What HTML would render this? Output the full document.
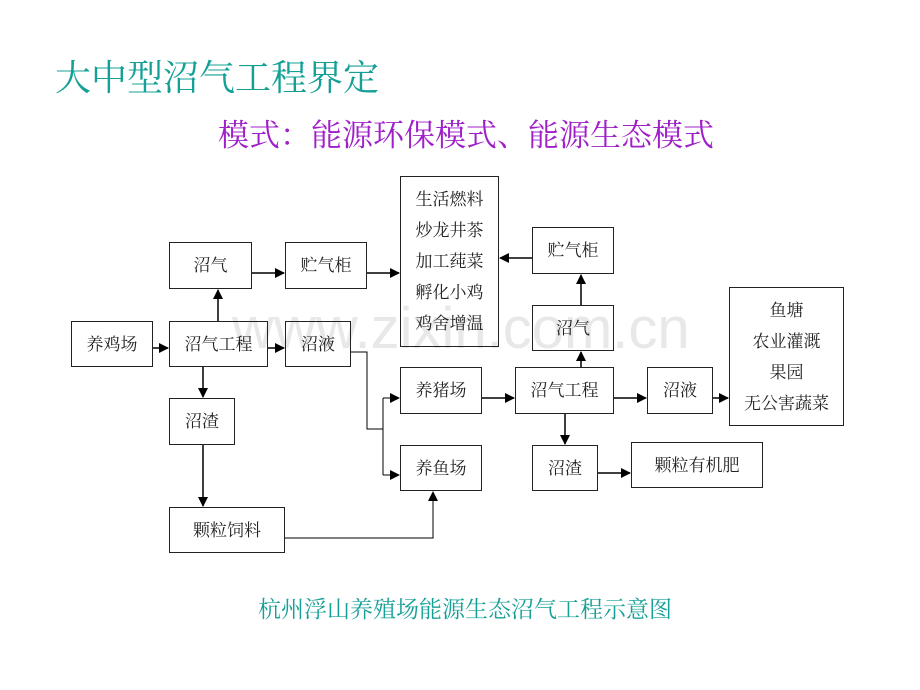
<!DOCTYPE html>
<html><head><meta charset="utf-8"><style>
body{margin:0;width:920px;height:690px;background:#fff;overflow:hidden;position:relative;font-family:"Liberation Serif","Noto Serif CJK SC",serif;}
.t{position:absolute;white-space:nowrap;}
.b{position:absolute;border:1.5px solid #222;box-sizing:border-box;display:flex;align-items:center;justify-content:center;font-size:17px;color:#222;text-align:center;line-height:31px;}
</style></head><body>
<div class="t" style="left:232px;top:295px;font-family:'Liberation Sans',sans-serif;font-size:58px;color:#e8e8e8;">www.zixin.com.cn</div>
<div class="t" style="left:55px;top:50px;font-size:36px;color:#15a097;">大中型沼气工程界定</div>
<div class="t" style="left:218px;top:110px;font-size:31px;color:#a020c8;">模式：能源环保模式、能源生态模式</div>
<div class="t" style="left:258px;top:591px;font-size:23px;color:#15a097;">杭州浮山养殖场能源生态沼气工程示意图</div>

<svg width="920" height="690" style="position:absolute;left:0;top:0">
<defs><marker id="a" markerWidth="10" markerHeight="10" refX="9" refY="5" orient="auto" markerUnits="userSpaceOnUse"><path d="M0,0L10,5L0,10z" fill="#000"/></marker></defs>
<g stroke="#000" stroke-width="1.5" fill="none">
<line x1="153" y1="348" x2="168" y2="348" marker-end="url(#a)"/>
<line x1="218" y1="321" x2="218" y2="290" marker-end="url(#a)"/>
<line x1="252" y1="273" x2="284" y2="273" marker-end="url(#a)"/>
<line x1="367" y1="273" x2="399" y2="273" marker-end="url(#a)"/>
<line x1="268" y1="348" x2="284" y2="348" marker-end="url(#a)"/>
<line x1="203" y1="367" x2="203" y2="397" marker-end="url(#a)"/>
<line x1="203" y1="445" x2="203" y2="506" marker-end="url(#a)"/>
<polyline stroke-width="1" points="351,352 367,352 367,429 383,429"/>
<line stroke-width="1" x1="383" y1="398" x2="383" y2="475"/>
<line stroke-width="1" x1="383" y1="398" x2="399" y2="398" marker-end="url(#a)"/>
<line stroke-width="1" x1="383" y1="475" x2="399" y2="475" marker-end="url(#a)"/>
<polyline stroke-width="1" points="285,538 433,538 433,492" marker-end="url(#a)"/>
<line x1="482" y1="398" x2="514" y2="398" marker-end="url(#a)"/>
<line x1="581" y1="367" x2="581" y2="352" marker-end="url(#a)"/>
<line x1="581" y1="305" x2="581" y2="275" marker-end="url(#a)"/>
<line x1="532" y1="258" x2="500" y2="258" marker-end="url(#a)"/>
<line x1="614" y1="398" x2="646" y2="398" marker-end="url(#a)"/>
<line x1="713" y1="398" x2="728" y2="398" marker-end="url(#a)"/>
<line x1="565" y1="414" x2="565" y2="444" marker-end="url(#a)"/>
<line x1="598" y1="473" x2="630" y2="473" marker-end="url(#a)"/>
</g></svg>

<div class="b" style="left:169px;top:242px;width:83px;height:47px;">沼气</div>
<div class="b" style="left:285px;top:242px;width:82px;height:47px;">贮气柜</div>
<div class="b" style="left:400px;top:176px;width:99px;height:171px;">生活燃料<br>炒龙井茶<br>加工莼菜<br>孵化小鸡<br>鸡舍增温</div>
<div class="b" style="left:71px;top:321px;width:82px;height:46px;">养鸡场</div>
<div class="b" style="left:169px;top:321px;width:99px;height:46px;">沼气工程</div>
<div class="b" style="left:285px;top:321px;width:66px;height:46px;">沼液</div>
<div class="b" style="left:169px;top:398px;width:66px;height:47px;">沼渣</div>
<div class="b" style="left:169px;top:507px;width:116px;height:46px;">颗粒饲料</div>
<div class="b" style="left:400px;top:367px;width:82px;height:47px;">养猪场</div>
<div class="b" style="left:400px;top:445px;width:82px;height:46px;">养鱼场</div>
<div class="b" style="left:515px;top:367px;width:99px;height:47px;">沼气工程</div>
<div class="b" style="left:532px;top:305px;width:82px;height:46px;">沼气</div>
<div class="b" style="left:532px;top:227px;width:82px;height:47px;">贮气柜</div>
<div class="b" style="left:647px;top:367px;width:66px;height:47px;">沼液</div>
<div class="b" style="left:729px;top:287px;width:115px;height:139px;">鱼塘<br>农业灌溉<br>果园<br>无公害蔬菜</div>
<div class="b" style="left:532px;top:445px;width:66px;height:46px;">沼渣</div>
<div class="b" style="left:631px;top:442px;width:132px;height:46px;">颗粒有机肥</div>
</body></html>
